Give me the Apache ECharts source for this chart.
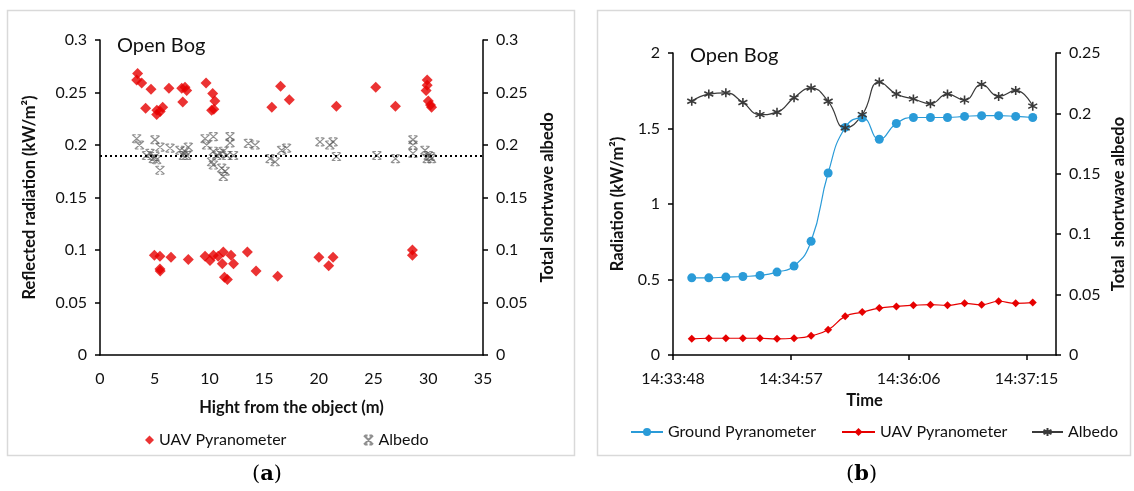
<!DOCTYPE html>
<html>
<head>
<meta charset="utf-8">
<script src="https://cdn.jsdelivr.net/npm/echarts@6/dist/echarts.min.js"></script>
<style>
    html, body { margin: 0; padding: 0; background: #fff; }
    #chart { width: 1134px; height: 491px; }
</style>
</head>
<body>
<div id="chart"></div>
<script>
(function () {
    'use strict';

    // (a) height above the bog vs reflected radiation / albedo
    var uavHeight = [3.44, 3.35, 3.81, 4.66, 6.3, 7.47, 7.77, 7.92, 7.56, 4.17, 5.2, 5.73, 5.5, 5.18,
        9.69, 10.3, 10.5, 10.2, 10.4, 15.7, 16.5, 17.3, 21.6, 25.2, 27.0, 29.9, 29.9, 29.8, 30.0, 30.2, 30.3,
        4.97, 5.48, 5.48, 5.5, 6.49, 8.07, 9.6, 10.05, 10.36, 10.8, 11.27, 11.18, 11.97, 12.2, 11.37, 11.64,
        13.47, 14.26, 16.24, 20.0, 20.9, 21.3, 28.55, 28.55];
    var uavReflected = [0.268, 0.262, 0.259, 0.253, 0.254, 0.254, 0.255, 0.252, 0.241, 0.235, 0.233, 0.236, 0.232, 0.229,
        0.259, 0.249, 0.242, 0.233, 0.234, 0.236, 0.256, 0.243, 0.237, 0.255, 0.237, 0.262, 0.257, 0.252, 0.242, 0.238, 0.236,
        0.095, 0.094, 0.082, 0.080, 0.093, 0.091, 0.094, 0.090, 0.095, 0.094, 0.098, 0.087, 0.095, 0.087, 0.074, 0.072,
        0.098, 0.080, 0.075, 0.093, 0.085, 0.093, 0.100, 0.095];
    var albedoHeight = [3.35, 3.6, 5.03, 5.48, 4.57, 5.03, 5.18, 4.87, 5.48, 4.26, 6.4, 7.31, 7.77, 8.07, 7.62, 7.92,
        9.6, 10.36, 9.75, 11.88, 11.88, 10.36, 10.66, 10.97, 11.27, 11.58, 10.2, 10.36, 12.2, 11.12, 11.43, 11.27,
        13.56, 14.17, 15.54, 16.0, 16.6, 17.05, 20.1, 21.0, 21.6, 21.3, 25.3, 27.0, 28.6, 28.6, 28.6,
        29.7, 30.0, 30.2, 30.3, 29.9];
    var albedoValue = [0.206, 0.200, 0.205, 0.198, 0.192, 0.189, 0.186, 0.187, 0.176, 0.190, 0.197, 0.195, 0.194, 0.198, 0.190, 0.190,
        0.206, 0.208, 0.200, 0.208, 0.202, 0.194, 0.190, 0.192, 0.194, 0.190, 0.184, 0.181, 0.190, 0.178, 0.175, 0.170,
        0.2015, 0.200, 0.187, 0.184, 0.195, 0.197, 0.203, 0.200, 0.189, 0.203, 0.190, 0.187, 0.205, 0.200, 0.192,
        0.195, 0.190, 0.189, 0.187, 0.187];
    var albedoMean = 0.193;

    // (b) time series
    var axisStart = '14:33:48';
    var timeLabels = ['14:33:59', '14:34:09', '14:34:19', '14:34:29', '14:34:39', '14:34:49', '14:34:59',
        '14:35:09', '14:35:19', '14:35:29', '14:35:39', '14:35:49', '14:35:59', '14:36:09',
        '14:36:19', '14:36:29', '14:36:39', '14:36:49', '14:36:59', '14:37:09', '14:37:19'];
    var groundRad = [0.511, 0.511, 0.516, 0.52, 0.527, 0.549, 0.589, 0.753, 1.205, 1.507, 1.571,
        1.429, 1.533, 1.573, 1.573, 1.573, 1.58, 1.585, 1.585, 1.58, 1.573];
    var uavRad = [0.107, 0.111, 0.111, 0.111, 0.111, 0.107, 0.111, 0.127, 0.167, 0.256, 0.284,
        0.311, 0.322, 0.329, 0.333, 0.329, 0.342, 0.333, 0.356, 0.342, 0.347];
    var albedoTime = [0.210, 0.216, 0.217, 0.209, 0.199, 0.201, 0.213, 0.221, 0.210, 0.188, 0.199,
        0.226, 0.216, 0.212, 0.208, 0.216, 0.211, 0.224, 0.214, 0.219, 0.206];
    // excel major unit 0.0008 day
    var timeTicks = [0, 69.12, 138.24, 207.36];
    var timeMax = 224.64;

    var FONT = 'Lato';
    var TXT = '#111';

    function toSec(s) {
        var p = s.split(':');
        return (+p[0]) * 3600 + (+p[1]) * 60 + (+p[2]);
    }

    var base = toSec(axisStart);

    function fmtTime(v) {
        var t = base + Math.round(v);
        var h = Math.floor(t / 3600), m = Math.floor((t % 3600) / 60), s = t % 60;
        return h + ':' + (m < 10 ? '0' : '') + m + ':' + (s < 10 ? '0' : '') + s;
    }

    function zip(xs, ys) {
        return xs.map(function (x, i) {
            return [x, ys[i]];
        });
    }

    var tx = timeLabels.map(function (t) {
        return toSec(t) - base;
    });

    var crossMark = 'path://M0,0L10,10M10,0L0,10M1,0L4,0M6,0L9,0M1,10L4,10M6,10L9,10';
    var starMark = 'path://M5,0L5,10M0.7,2.5L9.3,7.5M9.3,2.5L0.7,7.5';

    function axisCommon() {
        return {
            axisLine: {show: true, lineStyle: {color: '#000', width: 1.5}},
            axisTick: {show: true, inside: false, length: 5, lineStyle: {color: '#000', width: 1.5}},
            axisLabel: {color: TXT, fontFamily: FONT, fontSize: 16},
            splitLine: {show: false},
            nameTextStyle: {color: TXT, fontFamily: FONT, fontSize: 16.5, fontWeight: 'bold'}
        };
    }

    function merge(a, b) {
        Object.keys(b).forEach(function (k) {
            a[k] = b[k];
        });
        return a;
    }

    var xa = merge(axisCommon(), {
        type: 'value', gridIndex: 0, min: 0, max: 35, interval: 5,
        name: 'Hight from the object (m)', nameLocation: 'middle', nameGap: 44
    });
    xa.axisTick = {show: false};
    xa.axisLabel.margin = 16;

    var xb = merge(axisCommon(), {
        type: 'value', gridIndex: 1, min: 0, max: timeMax,
        name: 'Time', nameLocation: 'middle', nameGap: 37
    });
    xb.axisLabel.margin = 16;
    xb.axisLabel.formatter = fmtTime;
    xb.axisLabel.customValues = timeTicks;
    xb.axisTick.customValues = timeTicks;

    function yAxis(grid, pos, max, step, name, gap) {
        var a = merge(axisCommon(), {
            type: 'value', gridIndex: grid, position: pos, min: 0, max: max, interval: step,
            name: name, nameLocation: 'middle', nameRotate: 90, nameGap: gap
        });
        a.axisLabel.margin = 13;
        return a;
    }

    var legendText = {color: TXT, fontFamily: FONT, fontSize: 16};

    var option = {
        backgroundColor: '#fff',
        animation: false,
        textStyle: {fontFamily: FONT},
        grid: [
            {left: 100, top: 40, width: 383, height: 315},
            {left: 673, top: 53, width: 383, height: 302}
        ],
        xAxis: [xa, xb],
        yAxis: [
            yAxis(0, 'left', 0.3, 0.05, 'Reflected radiation (kW/m²)', 62),
            yAxis(0, 'right', 0.3, 0.05, 'Total shortwave albedo', 56),
            yAxis(1, 'left', 2, 0.5, 'Radiation (kW/m²)', 47),
            yAxis(1, 'right', 0.25, 0.05, 'Total  shortwave albedo', 54)
        ],
        legend: [
            {
                data: [{name: 'UAV Pyranometer', icon: 'diamond'}],
                left: 140, top: 427, itemWidth: 9, itemHeight: 9, itemGap: 5,
                textStyle: legendText
            },
            {
                data: ['Albedo '],
                left: 358, top: 427, itemWidth: 10, itemHeight: 9,
                textStyle: legendText
            },
            {
                data: ['Ground Pyranometer'],
                left: 625, top: 419, itemWidth: 32, itemHeight: 10,
                textStyle: legendText
            },
            {
                data: ['UAV Pyranometer '],
                left: 836, top: 419, itemWidth: 33, itemHeight: 10,
                textStyle: legendText
            },
            {
                data: ['Albedo'],
                left: 1026, top: 419, itemWidth: 31, itemHeight: 10,
                textStyle: legendText
            }
        ],
        graphic: [
            {type: 'rect', shape: {x: 7.5, y: 10.5, width: 567, height: 445}, silent: true,
                style: {fill: 'none', stroke: '#d9d9d9', lineWidth: 1.5}},
            {type: 'rect', shape: {x: 597.5, y: 10.5, width: 533, height: 445}, silent: true,
                style: {fill: 'none', stroke: '#d9d9d9', lineWidth: 1.5}},
            {type: 'text', left: 117, top: 36, silent: true,
                style: {text: 'Open Bog', fill: '#111', font: '20px Lato'}},
            {type: 'text', left: 690, top: 46, silent: true,
                style: {text: 'Open Bog', fill: '#111', font: '20px Lato'}},
            {type: 'text', left: 252, top: 464, silent: true,
                style: {
                    text: '({b|a})', fill: '#000', font: '21px "DejaVu Serif"',
                    rich: {b: {fontFamily: 'DejaVu Serif', fontSize: 21, fontWeight: 'bold', fill: '#000'}}
                }},
            {type: 'text', left: 846, top: 464, silent: true,
                style: {
                    text: '({b|b})', fill: '#000', font: '21px "DejaVu Serif"',
                    rich: {b: {fontFamily: 'DejaVu Serif', fontSize: 21, fontWeight: 'bold', fill: '#000'}}
                }}
        ],
        series: [
            {
                name: 'UAV Pyranometer', type: 'scatter', xAxisIndex: 0, yAxisIndex: 0,
                symbol: 'diamond', symbolSize: 11,
                itemStyle: {color: '#e60000'},
                data: zip(uavHeight, uavReflected)
            },
            {
                name: 'Albedo ', type: 'scatter', xAxisIndex: 0, yAxisIndex: 1,
                symbol: crossMark, symbolSize: [9, 8],
                itemStyle: {color: 'rgba(0,0,0,0)', borderColor: 'rgba(80,80,80,0.8)', borderWidth: 1.2},
                data: zip(albedoHeight, albedoValue),
                markLine: {
                    silent: true, symbol: 'none',
                    label: {show: false},
                    lineStyle: {color: '#000', type: [2, 3], width: 2},
                    data: [{yAxis: albedoMean}]
                }
            },
            {
                name: 'Ground Pyranometer', type: 'line', xAxisIndex: 1, yAxisIndex: 2,
                smooth: true, symbol: 'circle', symbolSize: 9,
                lineStyle: {color: '#2a9bd8', width: 1.2},
                itemStyle: {color: '#2a9bd8'},
                data: zip(tx, groundRad)
            },
            {
                name: 'UAV Pyranometer ', type: 'line', xAxisIndex: 1, yAxisIndex: 2,
                smooth: true, symbol: 'diamond', symbolSize: 8,
                lineStyle: {color: '#e60000', width: 1.2},
                itemStyle: {color: '#e60000'},
                data: zip(tx, uavRad)
            },
            {
                name: 'Albedo', type: 'line', xAxisIndex: 1, yAxisIndex: 3,
                smooth: true, symbol: starMark, symbolSize: 9,
                lineStyle: {color: '#3a3a3a', width: 1.2},
                itemStyle: {color: 'rgba(0,0,0,0)', borderColor: '#3a3a3a', borderWidth: 1.6},
                data: zip(tx, albedoTime)
            }
        ]
    };

    var myChart = echarts.init(document.getElementById('chart'), null, {renderer: 'canvas'});
    myChart.setOption(option);
})();
</script>
</body>
</html>
